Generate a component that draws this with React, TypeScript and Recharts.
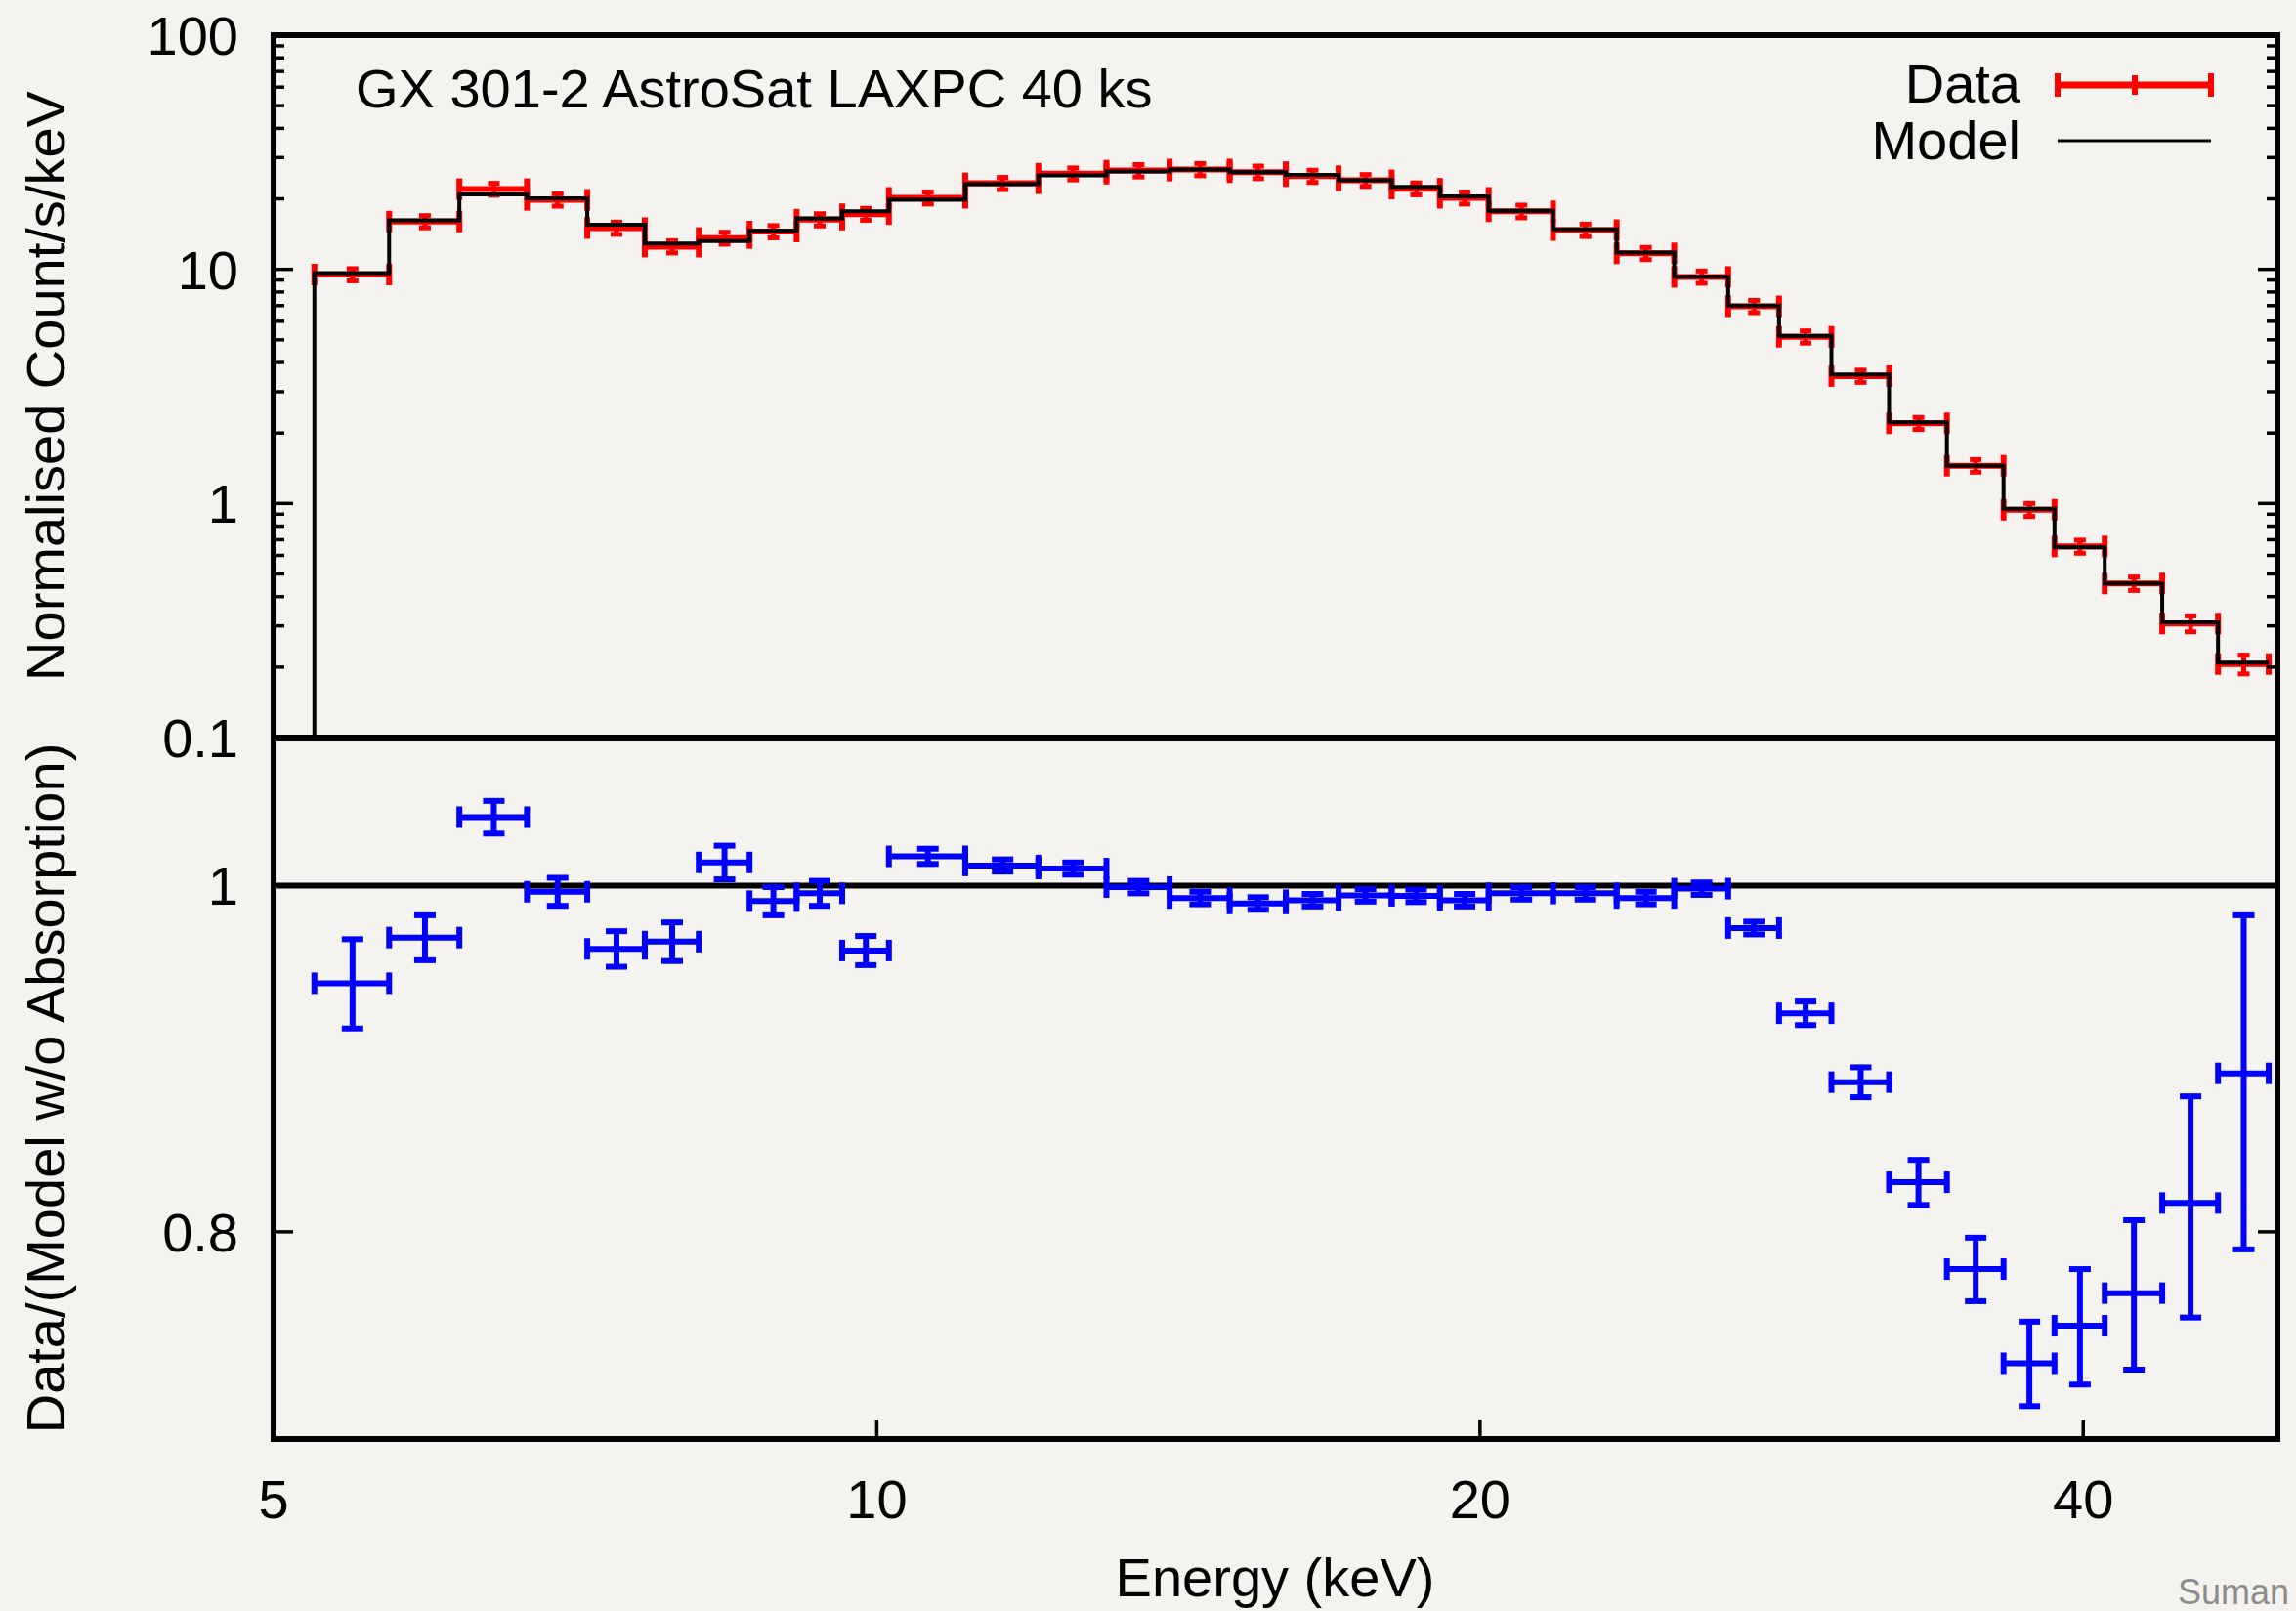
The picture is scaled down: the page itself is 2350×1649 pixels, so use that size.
import {
  ComposedChart,
  Customized,
  ErrorBar,
  Line,
  ReferenceArea,
  ReferenceLine,
  Scatter,
  XAxis,
  YAxis,
} from "recharts";

const FONT = "'Liberation Sans', Arial, Helvetica, sans-serif";
const RED = "#ff0000";
const BLUE = "#0000ff";
const INK = "#000000";
const PAPER = "#f4f3ef";

// channel edges (keV), 34 bins
const EDGES = [
  5.24, 5.71, 6.19, 6.69, 7.17, 7.66, 8.15, 8.64, 9.12, 9.61, 10.14, 11.07,
  12.04, 13.02, 14.0, 15.0, 16.0, 17.0, 18.07, 19.1, 20.2, 21.75, 23.4, 25.0,
  26.6, 28.2, 29.95, 32.0, 34.2, 36.5, 38.7, 41.0, 43.8, 46.7, 49.5,
];

// normalised counts/s/keV
const COUNTS = [
  9.5, 16.0, 22.0, 19.8, 15.0, 12.5, 13.6, 14.5, 16.3, 17.2, 20.2, 23.3, 25.6,
  26.4, 26.7, 26.0, 25.0, 24.0, 22.1, 20.2, 17.7, 14.7, 11.7, 9.28, 6.95, 5.15,
  3.5, 2.2, 1.45, 0.94, 0.655, 0.455, 0.307, 0.206,
];
const COUNTS_ERR = [
  0.57, 0.96, 1.3, 1.2, 0.9, 0.75, 0.8, 0.87, 0.98, 1.0, 1.2, 1.4, 1.5, 1.6,
  1.6, 1.6, 1.5, 1.4, 1.3, 1.2, 1.1, 0.9, 0.7, 0.56, 0.42, 0.31, 0.21, 0.13,
  0.09, 0.06, 0.042, 0.03, 0.024, 0.019,
];
const MODEL = [
  9.63, 16.2, 20.9, 20.1, 15.5, 12.9, 13.2, 14.6, 16.5, 17.7, 19.8, 23.1, 25.2,
  26.2, 26.7, 26.0, 25.3, 24.0, 22.5, 20.5, 17.8, 14.8, 11.8, 9.3, 7.0, 5.2,
  3.56, 2.22, 1.45, 0.95, 0.65, 0.455, 0.311, 0.209,
];

// data / (model w/o absorption)
const RATIO = [
  0.939, 0.967, 1.045, 0.996, 0.96, 0.9645, 1.015, 0.99, 0.995, 0.959, 1.019,
  1.013, 1.011, 0.999, 0.992, 0.9885, 0.9906, 0.9937, 0.9934, 0.9906, 0.995,
  0.995, 0.992, 0.998, 0.973, 0.921, 0.881, 0.826, 0.781, 0.735, 0.753, 0.769,
  0.815, 0.886,
];
const RATIO_ERR = [
  0.027, 0.014, 0.011, 0.009, 0.011, 0.012, 0.011, 0.009, 0.008, 0.009, 0.005,
  0.004, 0.004, 0.004, 0.004, 0.004, 0.004, 0.004, 0.004, 0.004, 0.004, 0.004,
  0.004, 0.004, 0.004, 0.007, 0.0085, 0.012, 0.016, 0.02, 0.028, 0.037, 0.058,
  0.095,
];

const X_MAJOR = [5, 10, 20, 40];
const X_MINOR = [15, 25, 30, 35];
const Y_TOP_MAJOR = [0.1, 1, 10, 100];
const Y_TOP_MINOR = [
  0.2, 0.3, 0.4, 0.5, 0.6, 0.7, 0.8, 0.9, 2, 3, 4, 5, 6, 7, 8, 9, 20, 30, 40,
  50, 60, 70, 80, 90,
];
const Y_RATIO = [0.8, 1];

const spectrum = COUNTS.map((v, i) => ({
  e: (EDGES[i] + EDGES[i + 1]) / 2,
  v,
  xe: (EDGES[i + 1] - EDGES[i]) / 2,
  ye: COUNTS_ERR[i],
}));

const modelSteps = [
  { e: EDGES[0], v: 0.1 },
  ...MODEL.map((v, i) => ({ e: EDGES[i], v })),
  { e: EDGES[EDGES.length - 1], v: MODEL[MODEL.length - 1] },
];

const ratio = RATIO.map((v, i) => ({
  e: (EDGES[i] + EDGES[i + 1]) / 2,
  v,
  xe: (EDGES[i + 1] - EDGES[i]) / 2,
  ye: RATIO_ERR[i],
}));

const W = 2350;
const tickFont = { fontSize: 56, fill: INK, fontFamily: FONT };
const tickStroke = { stroke: INK, strokeWidth: 3.5 };
const noMark = () => <g />;
// tick marks only, no label
const blankTick = () => <g />;

function TopDecor() {
  return (
    <g fontFamily={FONT} fill={INK}>
      <text x={364} y={110} fontSize={56}>
        GX 301-2 AstroSat LAXPC 40 ks
      </text>
      <text
        x={66}
        y={395}
        fontSize={56}
        textAnchor="middle"
        transform="rotate(-90 66 395)"
      >
        Normalised Count/s/keV
      </text>
      <text x={2068} y={105} fontSize={56} textAnchor="end">
        Data
      </text>
      <g stroke={RED} strokeWidth={6}>
        <line x1={2103} y1={87} x2={2266} y2={87} strokeWidth={7} />
        <line x1={2106} y1={75} x2={2106} y2={99} />
        <line x1={2263} y1={75} x2={2263} y2={99} />
        <line x1={2185} y1={77} x2={2185} y2={97} />
      </g>
      <text x={2068} y={163} fontSize={56} textAnchor="end">
        Model
      </text>
      <line x1={2106} y1={144} x2={2263} y2={144} stroke={INK} strokeWidth={3} />
    </g>
  );
}

function BottomDecor() {
  return (
    <g fontFamily={FONT} fill={INK}>
      <text
        x={66}
        y={414}
        fontSize={56}
        textAnchor="middle"
        transform="rotate(-90 66 414)"
      >
        Data/(Model w/o Absorption)
      </text>
      <text x={1305} y={934} fontSize={56} textAnchor="middle">
        Energy (keV)
      </text>
      <text x={2229} y={942} fontSize={36} fill="#8c8c8c">
        Suman
      </text>
    </g>
  );
}

export default function App() {
  return (
    <div
      style={{
        position: "relative",
        width: W,
        height: 1649,
        background: PAPER,
        overflow: "hidden",
      }}
    >
      <style>{"body{margin:0}"}</style>

      {/* spectrum panel */}
      <div style={{ position: "absolute", left: 0, top: 0 }}>
        <ComposedChart
          width={W}
          height={800}
          margin={{ top: 36, right: 17, bottom: 45, left: 278 }}
        >
          <XAxis
            dataKey="e"
            type="number"
            scale="log"
            domain={[5, 50]}
            allowDataOverflow
            hide
          />
          <YAxis
            yAxisId="y"
            dataKey="v"
            type="number"
            scale="log"
            domain={[0.1, 100]}
            allowDataOverflow
            ticks={Y_TOP_MAJOR}
            interval={0}
            width={1}
            tickSize={-20}
            tickMargin={56}
            tick={tickFont}
            tickLine={tickStroke}
            axisLine={false}
          />
          <YAxis
            yAxisId="ym"
            type="number"
            scale="log"
            domain={[0.1, 100]}
            allowDataOverflow
            ticks={Y_TOP_MINOR}
            interval={0}
            width={1}
            tickSize={-12}
            tick={blankTick}
            tickLine={tickStroke}
            axisLine={false}
          />
          <YAxis
            yAxisId="yr"
            orientation="right"
            type="number"
            scale="log"
            domain={[0.1, 100]}
            allowDataOverflow
            ticks={Y_TOP_MAJOR}
            interval={0}
            width={1}
            tickSize={-20}
            tick={blankTick}
            tickLine={tickStroke}
            axisLine={false}
          />
          <YAxis
            yAxisId="yrm"
            orientation="right"
            type="number"
            scale="log"
            domain={[0.1, 100]}
            allowDataOverflow
            ticks={Y_TOP_MINOR}
            interval={0}
            width={1}
            tickSize={-12}
            tick={blankTick}
            tickLine={tickStroke}
            axisLine={false}
          />
          <ReferenceArea
            yAxisId="y"
            x1={5}
            x2={50}
            y1={0.1}
            y2={100}
            fill="none"
            stroke={INK}
            strokeWidth={6}
            ifOverflow="visible"
          />
          <Scatter
            yAxisId="y"
            data={spectrum}
            dataKey="v"
            shape={noMark}
            isAnimationActive={false}
          >
            <ErrorBar
              dataKey="xe"
              direction="x"
              width={11}
              stroke={RED}
              strokeWidth={6}
              isAnimationActive={false}
            />
            <ErrorBar
              dataKey="ye"
              direction="y"
              width={6}
              stroke={RED}
              strokeWidth={5}
              isAnimationActive={false}
            />
          </Scatter>
          <Line
            yAxisId="y"
            data={modelSteps}
            dataKey="v"
            type="stepAfter"
            stroke={INK}
            strokeWidth={4}
            dot={false}
            activeDot={false}
            isAnimationActive={false}
          />
          <Customized component={TopDecor} />
        </ComposedChart>
      </div>

      {/* ratio panel */}
      <div style={{ position: "absolute", left: 0, top: 700 }}>
        <ComposedChart
          width={W}
          height={949}
          margin={{ top: 53, right: 18, bottom: 174, left: 279 }}
        >
          <XAxis
            dataKey="e"
            type="number"
            scale="log"
            domain={[5, 50]}
            allowDataOverflow
            ticks={X_MAJOR}
            interval={0}
            height={1}
            tickSize={-20}
            tickMargin={61}
            tick={tickFont}
            tickLine={tickStroke}
            axisLine={false}
          />
          <XAxis
            xAxisId="xm"
            type="number"
            scale="log"
            domain={[5, 50]}
            allowDataOverflow
            ticks={X_MINOR}
            interval={0}
            height={1}
            tickSize={-10}
            tick={blankTick}
            tickLine={tickStroke}
            axisLine={false}
          />
          <XAxis
            xAxisId="xt"
            orientation="top"
            type="number"
            scale="log"
            domain={[5, 50]}
            allowDataOverflow
            ticks={X_MAJOR}
            interval={0}
            height={1}
            tickSize={-20}
            tick={blankTick}
            tickLine={tickStroke}
            axisLine={false}
          />
          <XAxis
            xAxisId="xtm"
            orientation="top"
            type="number"
            scale="log"
            domain={[5, 50]}
            allowDataOverflow
            ticks={X_MINOR}
            interval={0}
            height={1}
            tickSize={-10}
            tick={blankTick}
            tickLine={tickStroke}
            axisLine={false}
          />
          <YAxis
            yAxisId="r"
            dataKey="v"
            type="number"
            scale="log"
            domain={[0.7, 1.1]}
            allowDataOverflow
            ticks={Y_RATIO}
            interval={0}
            width={1}
            tickSize={-20}
            tickMargin={56}
            tick={tickFont}
            tickLine={tickStroke}
            axisLine={false}
          />
          <YAxis
            yAxisId="rr"
            orientation="right"
            type="number"
            scale="log"
            domain={[0.7, 1.1]}
            allowDataOverflow
            ticks={Y_RATIO}
            interval={0}
            width={1}
            tickSize={-20}
            tick={blankTick}
            tickLine={tickStroke}
            axisLine={false}
          />
          <ReferenceArea
            yAxisId="r"
            x1={5}
            x2={50}
            y1={0.7}
            y2={1.1}
            fill="none"
            stroke={INK}
            strokeWidth={6}
            ifOverflow="visible"
          />
          <ReferenceLine yAxisId="r" y={1} stroke={INK} strokeWidth={6} />
          <Scatter
            yAxisId="r"
            data={ratio}
            dataKey="v"
            shape={noMark}
            isAnimationActive={false}
          >
            <ErrorBar
              dataKey="xe"
              direction="x"
              width={11}
              stroke={BLUE}
              strokeWidth={6}
              isAnimationActive={false}
            />
            <ErrorBar
              dataKey="ye"
              direction="y"
              width={11}
              stroke={BLUE}
              strokeWidth={6}
              isAnimationActive={false}
            />
          </Scatter>
          <Customized component={BottomDecor} />
        </ComposedChart>
      </div>
    </div>
  );
}
